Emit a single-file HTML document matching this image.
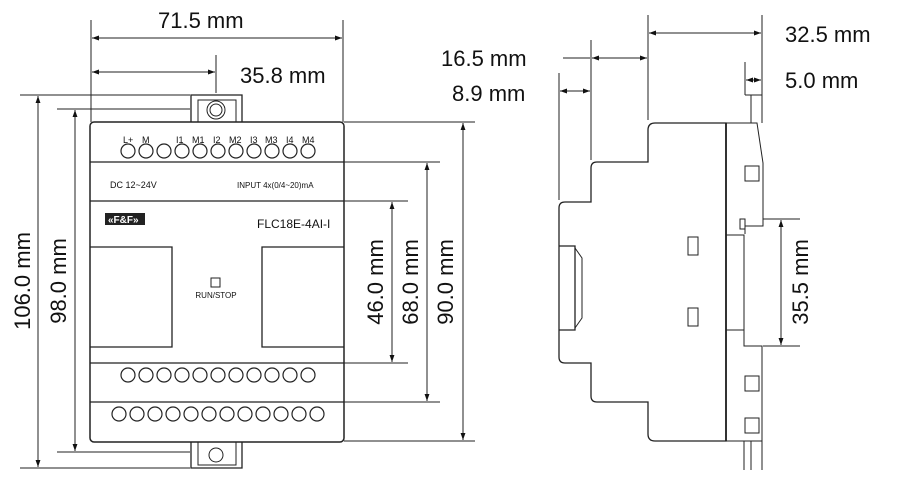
<!DOCTYPE html>
<html><head><meta charset="utf-8"><style>
html,body{margin:0;padding:0;background:#fff}
svg{display:block}
text{font-family:"Liberation Sans",sans-serif;fill:#111}
</style></head><body>
<svg width="900" height="481" viewBox="0 0 900 481" xmlns="http://www.w3.org/2000/svg">
<defs>
<marker id="a" viewBox="0 0 10 10" refX="10" refY="5" markerWidth="7" markerHeight="7" orient="auto-start-reverse"><path d="M0,1.5 L10,5 L0,8.5 z" fill="#111"/></marker>
</defs>
<g stroke="#222" stroke-width="1" fill="none">
<!-- extension lines front -->
<line x1="91" y1="20" x2="91" y2="122"/>
<line x1="343" y1="20" x2="343" y2="122"/>
<line x1="216" y1="55" x2="216" y2="93"/>
<line x1="20" y1="95" x2="190" y2="95"/>
<line x1="57" y1="109" x2="190" y2="109"/>
<line x1="20" y1="468" x2="190" y2="468"/>
<line x1="57" y1="452" x2="190" y2="452"/>
<line x1="344" y1="122" x2="475" y2="122"/>
<line x1="344" y1="162" x2="440" y2="162"/>
<line x1="344" y1="201" x2="408" y2="201"/>
<line x1="344" y1="363" x2="408" y2="363"/>
<line x1="344" y1="402" x2="440" y2="402"/>
<line x1="344" y1="441" x2="475" y2="441"/>
<!-- dimension lines front -->
<line x1="92" y1="38" x2="342" y2="38" marker-start="url(#a)" marker-end="url(#a)"/>
<line x1="92" y1="72" x2="215" y2="72" marker-start="url(#a)" marker-end="url(#a)"/>
<line x1="38" y1="96" x2="38" y2="467" marker-start="url(#a)" marker-end="url(#a)"/>
<line x1="75" y1="110" x2="75" y2="451" marker-start="url(#a)" marker-end="url(#a)"/>
<line x1="392" y1="202" x2="392" y2="362" marker-start="url(#a)" marker-end="url(#a)"/>
<line x1="427" y1="163" x2="427" y2="401" marker-start="url(#a)" marker-end="url(#a)"/>
<line x1="463" y1="123" x2="463" y2="440" marker-start="url(#a)" marker-end="url(#a)"/>
<!-- front body -->
<rect x="90" y="122" width="254" height="320" rx="4" stroke-width="1.5"/>
<line x1="90" y1="162" x2="344" y2="162" stroke-width="1.3"/>
<line x1="90" y1="201" x2="344" y2="201" stroke-width="1.3"/>
<line x1="90" y1="363" x2="344" y2="363" stroke-width="1.3"/>
<line x1="90" y1="402" x2="344" y2="402" stroke-width="1.3"/>
<path d="M90,247 H172 V347 H90" stroke-width="1.3"/>
<path d="M344,247 H262 V347 H344" stroke-width="1.3"/>
<rect x="211" y="278" width="9" height="9"/>
<!-- clips -->
<path d="M191,122 V95 H242 V122" stroke-width="1.3"/>
<path d="M198,122 V100 H236 V122"/>
<circle cx="216" cy="110" r="9"/>
<circle cx="216" cy="110" r="6"/>
<path d="M191,442 V468 H242 V442" stroke-width="1.3"/>
<path d="M198,442 V465 H236 V442"/>
<circle cx="216" cy="455" r="7"/>
</g>
<g stroke="#222" stroke-width="1.2" fill="none">
<circle cx="128" cy="151" r="7"/><circle cx="146" cy="151" r="7"/><circle cx="164" cy="151" r="7"/><circle cx="182" cy="151" r="7"/><circle cx="200" cy="151" r="7"/><circle cx="218" cy="151" r="7"/><circle cx="236" cy="151" r="7"/><circle cx="254" cy="151" r="7"/><circle cx="272" cy="151" r="7"/><circle cx="290" cy="151" r="7"/><circle cx="308" cy="151" r="7"/>
<circle cx="128" cy="375" r="7"/><circle cx="146" cy="375" r="7"/><circle cx="164" cy="375" r="7"/><circle cx="182" cy="375" r="7"/><circle cx="200" cy="375" r="7"/><circle cx="218" cy="375" r="7"/><circle cx="236" cy="375" r="7"/><circle cx="254" cy="375" r="7"/><circle cx="272" cy="375" r="7"/><circle cx="290" cy="375" r="7"/><circle cx="308" cy="375" r="7"/>
<circle cx="119" cy="414" r="7"/><circle cx="137" cy="414" r="7"/><circle cx="155" cy="414" r="7"/><circle cx="173" cy="414" r="7"/><circle cx="191" cy="414" r="7"/><circle cx="209" cy="414" r="7"/><circle cx="227" cy="414" r="7"/><circle cx="245" cy="414" r="7"/><circle cx="263" cy="414" r="7"/><circle cx="281" cy="414" r="7"/><circle cx="299" cy="414" r="7"/><circle cx="317" cy="414" r="7"/>
</g>
<g font-size="9">
<text x="123" y="143">L+</text><text x="142" y="143">M</text>
<text x="176" y="143">I1</text><text x="192" y="143">M1</text><text x="213" y="143">I2</text><text x="229" y="143">M2</text><text x="250" y="143">I3</text><text x="265" y="143">M3</text><text x="286" y="143">I4</text><text x="302" y="143">M4</text>
<text x="110" y="188">DC 12~24V</text>
<text x="237" y="188" font-size="8">INPUT 4x(0/4~20)mA</text>
</g>
<rect x="105" y="213" width="40" height="12" fill="#222"/>
<text x="108" y="223" font-size="10" font-weight="bold" style="fill:#fff">«F&amp;F»</text>
<text x="257" y="228" font-size="12">FLC18E-4AI-I</text>
<text x="216" y="298" font-size="8" text-anchor="middle">RUN/STOP</text>
<!-- side view -->
<g stroke="#222" stroke-width="1" fill="none">
<line x1="648" y1="15" x2="648" y2="120"/>
<line x1="762" y1="15" x2="762" y2="95"/>
<line x1="591" y1="40" x2="591" y2="160"/>
<line x1="559" y1="73" x2="559" y2="200"/>
<line x1="745" y1="62" x2="745" y2="95"/>
<line x1="649" y1="33" x2="761" y2="33" marker-start="url(#a)" marker-end="url(#a)"/>
<line x1="563" y1="58" x2="590" y2="58"/>
<line x1="592" y1="58" x2="647" y2="58" marker-start="url(#a)" marker-end="url(#a)"/>
<line x1="560" y1="91" x2="590" y2="91" marker-start="url(#a)" marker-end="url(#a)"/>
<line x1="746" y1="80" x2="761" y2="80" marker-start="url(#a)" marker-end="url(#a)"/>
<line x1="763" y1="219" x2="800" y2="219"/>
<line x1="763" y1="346" x2="800" y2="346"/>
<line x1="781" y1="220" x2="781" y2="345" marker-start="url(#a)" marker-end="url(#a)"/>
<path d="M726,123 H655 Q648,123 648,130 V162 H597 Q591,162 591,168 V202 H565 Q559,202 559,208 V357 Q559,363 565,363 H591 V396 Q591,402 597,402 H648 V434 Q648,441 655,441 H726 Z" stroke-width="1.3"/>
<line x1="726" y1="123" x2="726" y2="441" stroke-width="1.8"/>
<path d="M726,123 H757 L763,163 V226 H745 V234"/>
<path d="M745,95 H762 V123 M751,95 V123"/>
<rect x="740" y="219" width="5" height="10"/>
<path d="M726,235 H744 V330 H726"/>
<path d="M744,330 V346 H762 V441 H726"/>
<path d="M744,441 V470 M751,441 V470 M762,441 V470"/>
<rect x="745" y="166" width="14" height="15"/>
<rect x="745" y="376" width="14" height="15"/>
<rect x="745" y="418" width="14" height="15"/>
<rect x="688" y="237" width="10" height="18"/>
<rect x="688" y="308" width="10" height="18"/>
<path d="M559,246 H575 V330 H559" stroke-width="1.3"/>
<path d="M575,248 L582,258 V318 L575,328"/>
</g>
<!-- dimension text -->
<g font-size="22">
<text x="158" y="28">71.5 mm</text>
<text x="240" y="83">35.8 mm</text>
<text x="785" y="42">32.5 mm</text>
<text x="785" y="88">5.0 mm</text>
<text x="441" y="66">16.5 mm</text>
<text x="452" y="101">8.9 mm</text>
<text transform="translate(30,281) rotate(-90)" text-anchor="middle">106.0 mm</text>
<text transform="translate(66,281) rotate(-90)" text-anchor="middle">98.0 mm</text>
<text transform="translate(383,282) rotate(-90)" text-anchor="middle">46.0 mm</text>
<text transform="translate(418,282) rotate(-90)" text-anchor="middle">68.0 mm</text>
<text transform="translate(453,282) rotate(-90)" text-anchor="middle">90.0 mm</text>
<text transform="translate(808,282) rotate(-90)" text-anchor="middle">35.5 mm</text>
</g>
</svg>
</body></html>
